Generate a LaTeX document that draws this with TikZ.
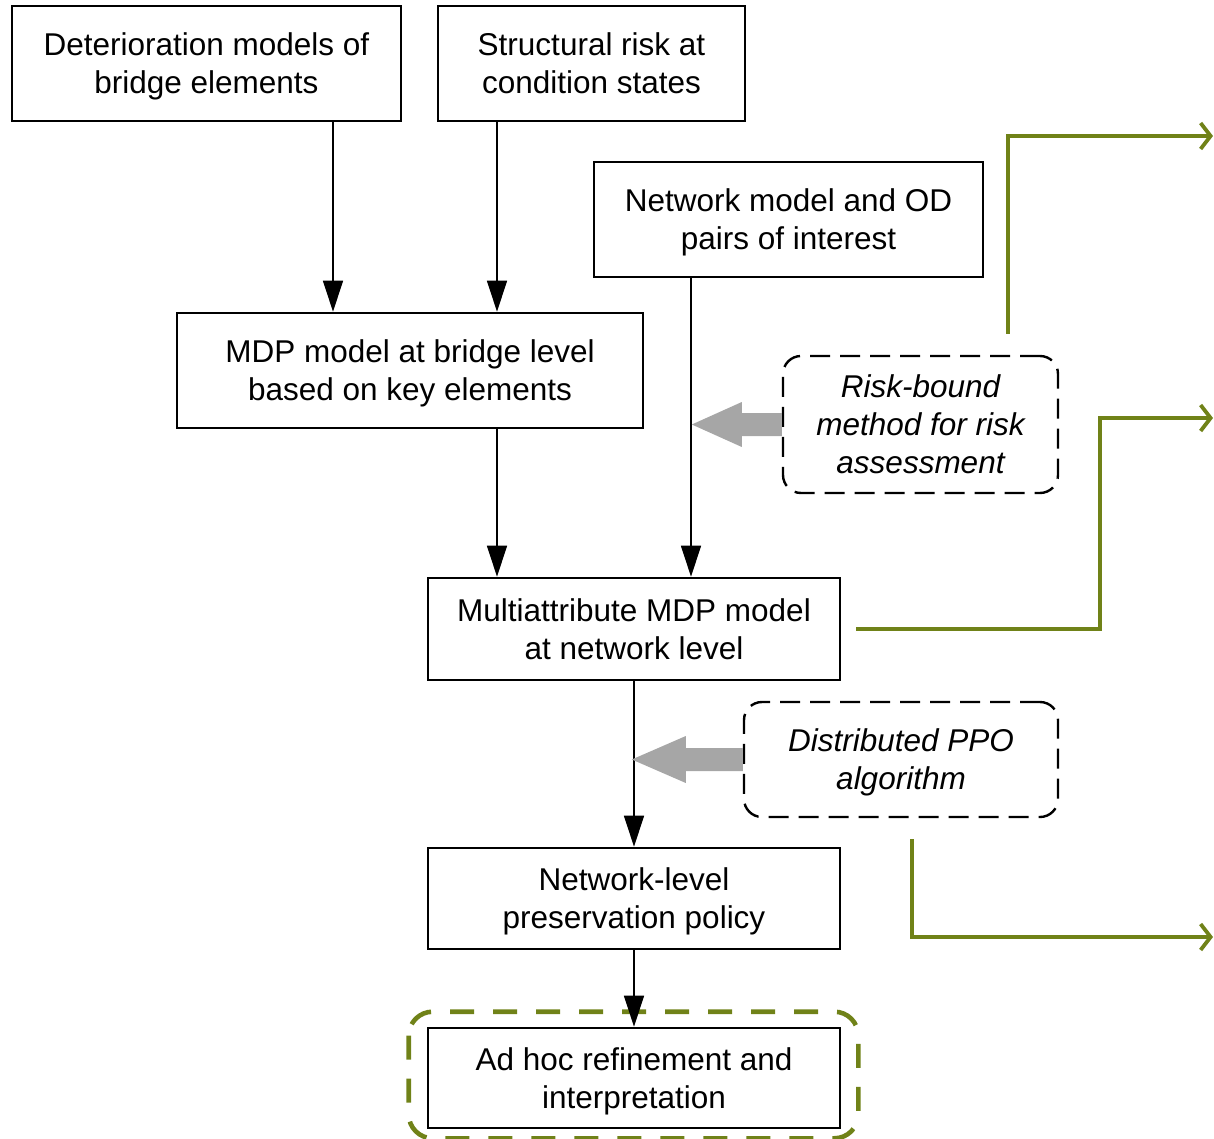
\documentclass[tikz,border=0pt]{standalone}
\usepackage{fontspec}
\setmainfont{Liberation Sans}
\usetikzlibrary{arrows.meta}
\definecolor{olive}{RGB}{112,130,24}
\definecolor{blockgray}{RGB}{166,166,166}
\begin{document}
\begin{tikzpicture}[x=1pt,y=-1pt,
  % a fixed text depth keeps descenders from lifting the lines
  txt/.style={align=center,font=\fontsize{31.5}{38}\selectfont,inner sep=0pt,
    text depth=-2pt},
  box/.style={txt,draw,line width=2.6pt},
  idea/.style={txt,draw,line width=2.4pt,dash pattern=on 20pt off 10pt,
    rounded corners=18pt,font=\fontsize{31.5}{38}\selectfont\itshape},
  flow/.style={line width=1.4pt,-{Triangle[length=31pt,width=20pt]}},
  feed/.style={fill=blockgray},
  link/.style={draw=olive,line width=3.8pt,-{Straight Barb[length=10pt,width=26pt]}}]
\useasboundingbox (0,0) rectangle (1214,1139);

% main boxes
\node[box,minimum width=389pt,minimum height=115pt] (A) at (206.5,63.5)
  {Deterioration models of\\bridge elements};
\node[box,minimum width=307pt,minimum height=115pt] (B) at (591.5,63.5)
  {Structural risk at\\condition states};
\node[box,minimum width=389pt,minimum height=115pt] (C) at (788.5,219.5)
  {Network model and OD\\pairs of interest};
\node[box,minimum width=466pt,minimum height=115pt] (D) at (410,370.5)
  {MDP model at bridge level\\based on key elements};
\node[box,minimum width=412pt,minimum height=102pt] (F) at (634,629)
  {Multiattribute MDP model\\at network level};
\node[box,minimum width=412pt,minimum height=101pt] (H) at (634,898.5)
  {Network-level\\preservation policy};
\node[box,minimum width=412pt,minimum height=100pt] (I) at (634,1078)
  {Ad hoc refinement and\\interpretation};

% method boxes
\node[idea,minimum width=275pt,minimum height=137pt] (E) at (920.5,424.5)
  {Risk-bound\\method for risk\\assessment};
\node[idea,minimum width=314pt,minimum height=115pt] (G) at (901,759.5)
  {Distributed PPO\\algorithm};

% highlight around the last step
\draw[olive,line width=4.6pt,dash pattern=on 24pt off 19pt,rounded corners=24pt]
  ([shift={(-18,-15)}]I.north west) rectangle ([shift={(17,9)}]I.south east);

% columns of the flow arrows
\coordinate (xa) at (333,0);
\coordinate (xb) at (497,0);
\coordinate (xc) at (691,0);

\draw[flow] (A.south -| xa) -- (D.north -| xa);
\draw[flow] (B.south -| xb) -- (D.north -| xb);
\draw[flow] (D.south -| xb) -- (F.north -| xb);
\draw[flow] (C.south -| xc) -- (F.north -| xc);
\draw[flow] (F.south) -- (H.north);
\draw[flow] (H.south) -- (I.north);

% block arrows feeding the methods in
\fill[feed] (E.west) ++(0,-11.5) -- ++(-40,0) -- ++(0,-11) -- ++(-50,22.5)
  -- ++(50,22.5) -- ++(0,-11) -- ++(40,0) -- cycle;
\fill[feed] (G.west) ++(0,-11.5) -- ++(-57,0) -- ++(0,-12) -- ++(-54,23.5)
  -- ++(54,23.5) -- ++(0,-12) -- ++(57,0) -- cycle;

% outgoing links
\coordinate (o1) at (1213,136);
\coordinate (o2) at (1213,418);
\coordinate (o3) at (1213,937);
\draw[link] ([shift={(87.5,-21)}]E.north) |- (o1);
\draw[link] ([xshift=15pt]F.east) -| (1100,523) |- (o2);
\draw[link] ([shift={(11,21)}]G.south) |- (o3);
\end{tikzpicture}
\end{document}
